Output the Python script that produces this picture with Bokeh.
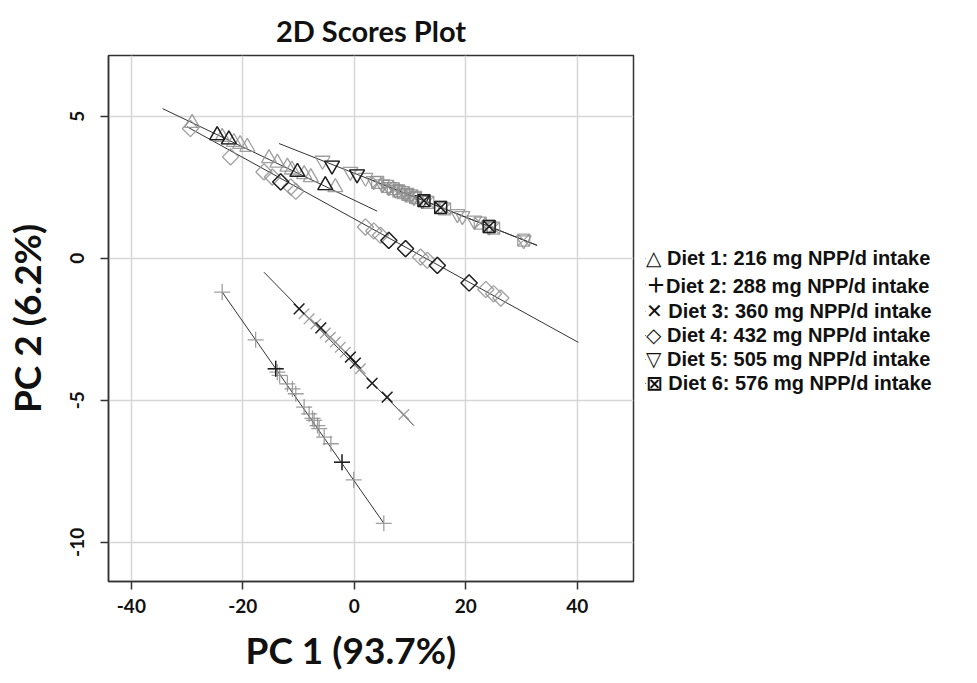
import math
from bokeh.plotting import figure
from bokeh.models import (Range1d, Legend, LegendItem, Title, FixedTicker,
                          ColumnDataSource, CDSView, IndexFilter)
from bokeh.embed import file_html
from bokeh.resources import INLINE

# ---------------- data ----------------
diet_labels = [
    "Diet 1: 216 mg NPP/d intake",
    "Diet 2: 288 mg NPP/d intake",
    "Diet 3: 360 mg NPP/d intake",
    "Diet 4: 432 mg NPP/d intake",
    "Diet 5: 505 mg NPP/d intake",
    "Diet 6: 576 mg NPP/d intake",
]

d1_x = [-29.1, -24.6, -23.7, -22.5, -21.6, -20.5, -19.2, -15.3, -13.8, -12.0, -11.2, -10.2, -9.0, -7.8, -5.2, -3.4]
d1_y = [4.76, 4.33, 4.27, 4.18, 4.09, 4.02, 3.92, 3.52, 3.36, 3.22, 3.12, 3.04, 2.96, 2.85, 2.57, 2.50]

d2_x = [-23.7, -17.7, -14.1, -13.8, -13.4, -12.0, -11.1, -10.5, -9.0, -8.1, -7.5, -7.2, -6.6, -6.3, -5.4, -4.2, -2.2, -0.1, 5.3]
d2_y = [-1.19, -2.87, -3.89, -4.01, -4.12, -4.42, -4.60, -4.77, -5.24, -5.48, -5.64, -5.71, -5.89, -6.00, -6.30, -6.53, -7.18, -7.80, -9.33]

d3_x = [-9.9, -9.0, -8.1, -6.9, -6.0, -5.2, -4.3, -3.4, -2.5, -1.6, -0.7, 0.2, 1.1, 3.2, 5.9, 8.9]
d3_y = [-1.78, -1.95, -2.13, -2.31, -2.45, -2.63, -2.78, -2.95, -3.13, -3.31, -3.48, -3.69, -3.89, -4.40, -4.89, -5.50]

d4_x = [-29.4, -22.2, -16.2, -14.7, -13.2, -11.4, -10.5, 2.0, 3.5, 4.7, 6.2, 9.2, 11.9, 13.1, 14.9, 20.6, 23.6, 25.0, 26.3]
d4_y = [4.57, 3.57, 3.04, 2.86, 2.69, 2.51, 2.36, 1.10, 0.96, 0.81, 0.63, 0.34, 0.04, -0.07, -0.25, -0.87, -1.10, -1.25, -1.40]

d5_x = [-5.7, -4.0, -0.7, 0.5, 2.0, 3.5, 5.0, 6.2, 7.4, 9.2, 10.7, 12.2, 18.5, 19.4, 21.5, 24.2, 30.4]
d5_y = [3.44, 3.27, 3.05, 2.96, 2.84, 2.72, 2.61, 2.51, 2.42, 2.28, 2.16, 2.05, 1.56, 1.49, 1.33, 1.12, 0.64]

d6_x = [4.2, 6.0, 7.0, 8.0, 8.8, 9.6, 10.3, 11.0, 12.5, 13.2, 15.5, 16.2, 22.6, 24.2, 25.0, 30.4]
d6_y = [2.67, 2.53, 2.45, 2.37, 2.31, 2.25, 2.20, 2.14, 2.03, 1.97, 1.79, 1.74, 1.24, 1.12, 1.06, 0.64]

# points that are printed dark (black) in the picture, by index
d1_dark = [1, 3, 11, 14]
d2_dark = [2, 16]
d3_dark = [0, 4, 10, 11, 13, 14]
d4_dark = [4, 10, 11, 14, 15]
d5_dark = [1, 3, 11]
d6_dark = [8, 10, 13]

# fitted lines per diet: [x_start, x_end], [y_start, y_end]
fit1_x, fit1_y = [-34.4, 4.1], [5.27, 1.66]
fit2_x, fit2_y = [-23.7, 5.3], [-1.19, -9.33]
fit3_x, fit3_y = [-16.2, 10.7], [-0.49, -5.89]
fit4_x, fit4_y = [-30.0, 40.2], [4.63, -2.96]
fit5_x, fit5_y = [-13.5, 32.8], [4.04, 0.455]
fit6_x, fit6_y = [2.0, 32.8], [2.84, 0.455]

x_ticks = [-40, -20, 0, 20, 40]
y_ticks = [-10, -5, 0, 5]

# ---------------- figure ----------------
FONT = "Lato"
p = figure(frame_width=525, frame_height=526,
           x_range=Range1d(-44.1, 50.1), y_range=Range1d(-11.38, 7.14),
           output_backend="svg", toolbar_location=None, title=None,
           min_border_left=108, min_border_right=328,
           min_border_top=55, min_border_bottom=86)
p.background_fill_color = "white"
p.border_fill_color = "white"
p.outline_line_color = "#333333"
p.outline_line_width = 1.5

p.xaxis.ticker = FixedTicker(ticks=x_ticks)
p.yaxis.ticker = FixedTicker(ticks=y_ticks)
p.xaxis.major_label_overrides = {t: str(t) for t in x_ticks}
p.yaxis.major_label_overrides = {t: str(t) for t in y_ticks}
for ax in (p.xaxis[0], p.yaxis[0]):
    ax.axis_line_color = "#333333"
    ax.axis_line_width = 1.5
    ax.major_tick_line_color = "#333333"
    ax.major_tick_line_width = 1.5
    ax.major_tick_out = 8
    ax.major_tick_in = 0
    ax.minor_tick_line_color = None
    ax.major_label_text_font = FONT
    ax.major_label_text_font_style = "bold"
    ax.major_label_text_font_size = "19px"
    ax.major_label_text_color = "#111111"
    ax.axis_label_text_font = FONT
    ax.axis_label_text_font_style = "bold"
    ax.axis_label_text_font_size = "37px"
    ax.axis_label_text_color = "#111111"
p.xaxis.major_label_standoff = 9
p.yaxis.major_label_orientation = "vertical"
p.yaxis.major_label_standoff = 16
p.yaxis.axis_label = "PC 2 (6.2%)"
p.yaxis.axis_label_standoff = 19

p.grid.grid_line_color = "#d6d6d6"
p.grid.grid_line_width = 1.5

# fitted lines
for fx, fy in [(fit1_x, fit1_y), (fit2_x, fit2_y), (fit3_x, fit3_y),
               (fit4_x, fit4_y), (fit5_x, fit5_y), (fit6_x, fit6_y)]:
    p.line(fx, fy, line_color="#333333", line_width=1)

GRAY = "#8f8f8f"
DARK = "#111111"
series = [
    (d1_x, d1_y, d1_dark, "triangle", 15, 0),
    (d2_x, d2_y, d2_dark, "cross", 16, 0),
    (d3_x, d3_y, d3_dark, "x", 15, 0),
    (d4_x, d4_y, d4_dark, "square", 11.5, math.pi / 4),
    (d5_x, d5_y, d5_dark, "inverted_triangle", 15, 0),
    (d6_x, d6_y, d6_dark, "square_x", 12, 0),
]
symbols = ["\u25B3 ", "\uFF0B", "\u2715 ", "\u25C7 ", "\u25BD ", "\u22A0 "]

items = []
for (xs, ys, dark, mk, sz, ang), lab, sym in zip(series, diet_labels, symbols):
    src = ColumnDataSource(dict(x=xs, y=ys))
    p.scatter("x", "y", source=src, marker=mk, size=sz, angle=ang,
              fill_color=None, line_color=GRAY, line_alpha=0.85, line_width=1.3)
    r = p.scatter("x", "y", source=src, view=CDSView(filter=IndexFilter(dark)),
                  marker=mk, size=sz, angle=ang,
                  fill_color=None, line_color=DARK, line_alpha=0.9, line_width=1.4)
    items.append(LegendItem(label=sym + lab, renderers=[r]))

legend = Legend(items=items, location=(12, 186))
legend.glyph_width = 1
legend.glyph_height = 1
legend.spacing = 0
legend.label_standoff = 0
legend.padding = 0
legend.margin = 12
legend.border_line_color = None
legend.background_fill_alpha = 0
legend.label_text_font = "'Liberation Sans', 'DejaVu Sans', 'Noto Sans CJK SC'"
legend.label_text_font_style = "bold"
legend.label_text_font_size = "20px"
legend.label_text_color = "#111111"
legend.label_height = 20
p.add_layout(legend, "right")

# titles
p.add_layout(Title(text="2D Scores Plot", align="center", text_font=FONT, text_font_style="bold",
                   text_font_size="29px", text_color="#111111", standoff=15), "above")
p.add_layout(Title(text="PC 1 (93.7%)", align="left", offset=137, text_font=FONT, text_font_style="bold",
                   text_font_size="37px", text_color="#111111", standoff=18), "below")

open("out.html", "w").write(file_html(p, INLINE))
